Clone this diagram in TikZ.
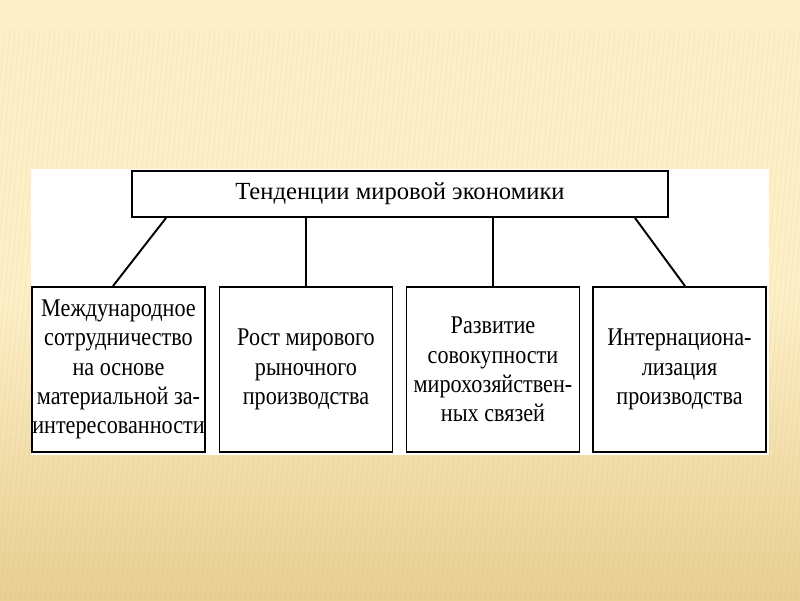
\documentclass[tikz,border=0pt]{standalone}
\usepackage{fontspec}
\setmainfont{Liberation Serif}
\newfontfamily\boxfont[FakeStretch=0.87]{Liberation Serif}
\usetikzlibrary{backgrounds}
\pgfdeclarelayer{bglayer}
\pgfdeclarelayer{edgelayer}
\pgfdeclarelayer{nodelayer}
\pgfsetlayers{bglayer,edgelayer,nodelayer,main}
\definecolor{cream}{RGB}{253,239,199}
\definecolor{tan}{RGB}{232,207,146}
\definecolor{stripe}{RGB}{214,182,110}
\tikzset{font=\fontsize{14}{16.5}\selectfont}
\tikzstyle{none}=[inner sep=0pt]
\tikzstyle{title}=[draw,line width=1.1pt,rectangle,minimum width=10.72cm,minimum height=0.92cm,inner sep=0pt]
\tikzstyle{box}=[draw,line width=1.1pt,rectangle,minimum width=3.46cm,minimum height=3.3cm,inner sep=0pt,align=center,font=\boxfont\fontsize{14.5}{16.6}\selectfont]

\begin{document}
\begin{tikzpicture}
	\useasboundingbox (0,0) rectangle (16,-12);
	\begin{pgfonlayer}{bglayer}
		\shade[top color=cream,bottom color=tan,middle color=cream] (0,0) rectangle (16,-12);
		\foreach \i in {-4,-3.9,...,20} {
			\draw[stripe,opacity=0.12,line width=0.6pt] (\i,-12) -- (\i+1.1,-0.6);
		}
		\fill[white] (0.62,-3.38) rectangle (15.38,-9.1);
	\end{pgfonlayer}
	\begin{pgfonlayer}{nodelayer}
		\node [style=title] (0) at (8, -3.88) {Тенденции мировой экономики};
		\node [style=box] (1) at (2.37, -7.39) {Международное\\сотрудничество\\на основе\\материальной за-\\интересованности};
		\node [style=box] (2) at (6.12, -7.39) {Рост мирового\\рыночного\\производства};
		\node [style=box] (3) at (9.86, -7.39) {Развитие\\совокупности\\мирохозяйствен-\\ных связей};
		\node [style=box] (4) at (13.59, -7.39) {Интернациона-\\лизация\\производства};
	\end{pgfonlayer}
	\begin{pgfonlayer}{edgelayer}
		\draw[line width=1.1pt] ([xshift=-4.68cm]0.south) to ([xshift=-0.11cm]1.north);
		\draw[line width=1.1pt] (2.north) to (2.north |- 0.south);
		\draw[line width=1.1pt] (3.north) to (3.north |- 0.south);
		\draw[line width=1.1pt] ([xshift=4.7cm]0.south) to ([xshift=0.11cm]4.north);
	\end{pgfonlayer}
\end{tikzpicture}
\end{document}
